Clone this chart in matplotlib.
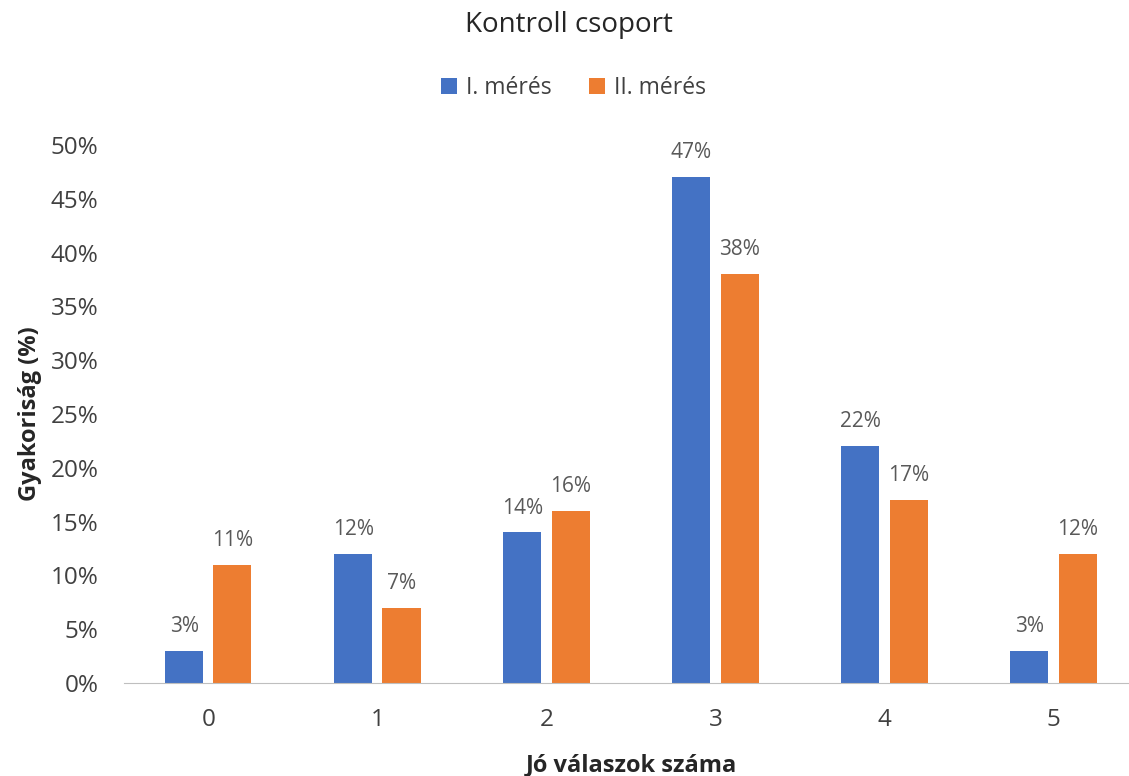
import matplotlib
matplotlib.use("Agg")
import matplotlib.pyplot as plt
import numpy as np

categories = ["0", "1", "2", "3", "4", "5"]
meres1 = [3, 12, 14, 47, 22, 3]
meres2 = [11, 7, 16, 38, 17, 12]
series_names = ["I. mérés", "II. mérés"]
yticks = [0, 5, 10, 15, 20, 25, 30, 35, 40, 45, 50]

plt.rcParams['font.family'] = ['Open Sans', 'DejaVu Sans']
grey = '#595959'
dark = '#404040'

fig = plt.figure(figsize=(11.29, 7.76), dpi=100)
ax = fig.add_axes([0.1096, 0.1198, 0.8984, 0.6933])

x = np.arange(len(categories))
w = 0.225
off = 0.143
b1 = ax.bar(x - off, meres1, w, color='#4472C4', label=series_names[0])
b2 = ax.bar(x + off, meres2, w, color='#ED7D31', label=series_names[1])

for bars, vals in ((b1, meres1), (b2, meres2)):
    for r, v in zip(bars, vals):
        ax.annotate(f"{v}%", (r.get_x() + r.get_width() / 2, v), xytext=(0, 10),
                    textcoords='offset points', ha='center', va='bottom',
                    fontsize=15, color=grey)

ax.set_xlim(-0.5, 5.5)
ax.set_ylim(0, 50)
ax.set_xticks(x)
ax.set_xticklabels(categories)
ax.set_yticks(yticks)
ax.set_yticklabels([f"{t}%" for t in yticks])
ax.tick_params(axis='both', length=0, labelsize=17.5, colors=dark)
ax.tick_params(axis='x', pad=18)
ax.tick_params(axis='y', pad=18)
for s in ['top', 'right', 'left']:
    ax.spines[s].set_visible(False)
ax.spines['bottom'].set_color('#BFBFBF')

ax.set_xlabel("Jó válaszok száma", fontsize=17, fontweight='bold', color='#262626', va='center')
ax.set_ylabel("Gyakoriság (%)", fontsize=17, fontweight='bold', color='#262626', va='center')
ax.xaxis.set_label_coords(0.5, -0.152)
ax.yaxis.set_label_coords(-0.092, 0.5)

fig.text(0.504, 0.968, "Kontroll csoport", ha='center', va='center', fontsize=20, color='#262626')
fig.legend(handles=[b1, b2], labels=series_names, loc='center', bbox_to_anchor=(0.508, 0.886),
           ncol=2, frameon=False, fontsize=16.5, handlelength=0.7, handleheight=0.7,
           columnspacing=1.6, handletextpad=0.4, labelcolor=dark)

fig.savefig("out.png", dpi=100)
